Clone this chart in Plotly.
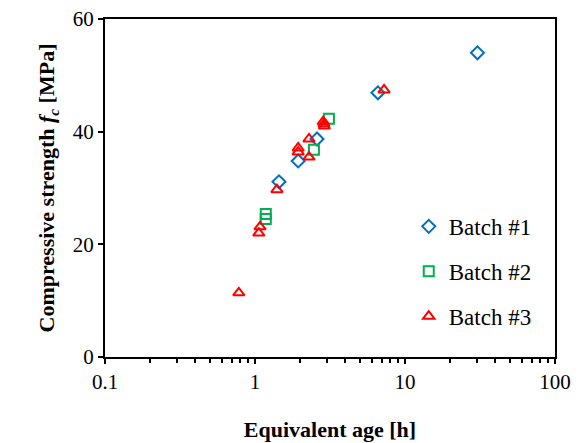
import plotly.graph_objects as go

# Batch data: equivalent age [h] vs compressive strength [MPa]
batch1_age = [30.4, 6.6, 2.59, 1.94, 1.445]
batch1_fc = [54.0, 46.9, 38.7, 34.8, 31.1]

batch2_age = [3.11, 2.47, 1.18, 1.18]
batch2_fc = [42.3, 36.8, 25.4, 24.5]

batch3_age = [7.25, 2.85, 2.9, 2.88, 2.29, 2.29, 1.94, 1.94, 1.40, 1.08, 1.06, 0.78]
batch3_fc = [47.4, 41.8, 41.0, 41.4, 38.7, 35.5, 37.1, 36.4, 29.7, 23.1, 22.0, 11.4]

font_family = "Liberation Serif, Times New Roman, serif"

fig = go.Figure()
fig.add_trace(go.Scatter(
    x=batch1_age, y=batch1_fc, mode="markers", name="Batch #1", legendgroup="1",
    marker=dict(symbol="diamond-open", size=10, color="#0070C0", line=dict(width=2)),
))
fig.add_trace(go.Scatter(
    x=batch2_age, y=batch2_fc, mode="markers", name="Batch #2", legendgroup="2",
    marker=dict(symbol="square-open", size=10, color="#00B050", line=dict(width=2)),
))
fig.add_trace(go.Scatter(
    x=batch3_age, y=batch3_fc, mode="markers", name="Batch #3", legendgroup="3",
    marker=dict(symbol="triangle-up-open", size=10, color="#FF0000", line=dict(width=2)),
))

fig.update_layout(
    width=578, height=443,
    margin=dict(l=105, r=23, t=19, b=86),
    plot_bgcolor="white", paper_bgcolor="white",
    font=dict(family=font_family, size=21, color="black"),
    showlegend=True,
    legend=dict(x=0.675, y=0.45, xanchor="left", yanchor="top",
                font=dict(size=23), tracegroupgap=12, traceorder="grouped",
                itemwidth=30, bgcolor="rgba(0,0,0,0)"),
)

fig.update_xaxes(
    type="log", range=[-1, 2], automargin=False,
    tickvals=[0.1, 1, 10, 100], ticktext=["0.1", "1", "10", "100"],
    showline=True, linecolor="black", linewidth=2, mirror=True,
    ticks="outside", ticklen=5, tickwidth=2, tickcolor="black",
    minor=dict(ticks="outside", ticklen=4, tickwidth=2, tickcolor="black",
               dtick="D1", showgrid=False),
    showgrid=False, zeroline=False,
    title=dict(text="<b>Equivalent age [h]</b>", font=dict(size=22), standoff=28),
)
fig.update_yaxes(
    range=[0, 60], dtick=20, automargin=False,
    showline=True, linecolor="black", linewidth=2, mirror=True,
    ticks="outside", ticklen=5, tickwidth=2, tickcolor="black",
    showgrid=False, zeroline=False,
    title=dict(text="<b>Compressive strength <i>f<sub>c</sub></i> [MPa]</b>",
               font=dict(size=22), standoff=12),
)

# drop the default 8px body margin so the figure fills the window
fig.write_html("out.html", config={"displayModeBar": False},
               post_script="document.body.style.margin='0';")
